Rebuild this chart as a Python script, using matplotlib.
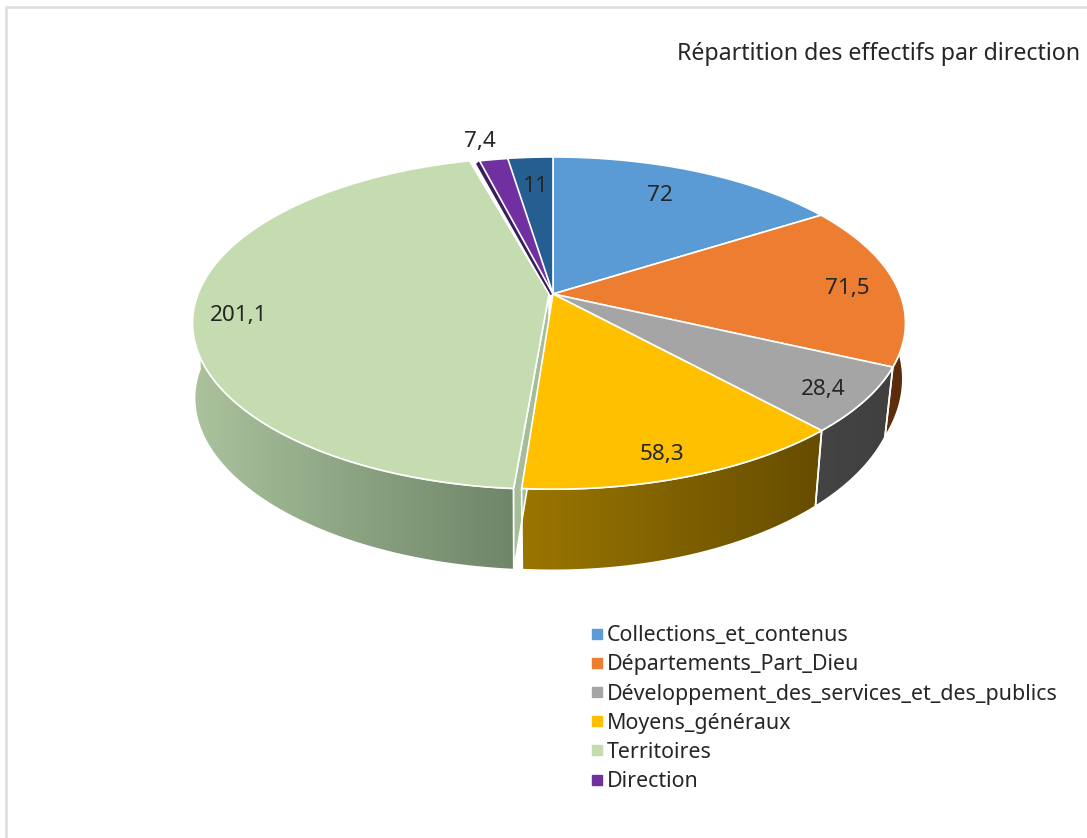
import numpy as np
from matplotlib import pyplot as plt
from matplotlib.colors import LinearSegmentedColormap
from matplotlib.lines import Line2D
from matplotlib.patches import Polygon

categories = ["Collections_et_contenus", "Départements_Part_Dieu",
              "Développement_des_services_et_des_publics", "Moyens_généraux",
              "Territoires", "Direction"]
values = [72, 71.5, 28.4, 58.3, 201.1, 7.4, 11]
value_labels = ["72", "71,5", "28,4", "58,3", "201,1", "7,4", "11"]
title = "Répartition des effectifs par direction"

top_colors = ["#5b9bd5", "#ed7d31", "#a5a5a5", "#ffc000", "#c5dbb0", "#7030a0", "#255e91"]
wall_colors = [("#37608a", "#37608a"), ("#6b350f", "#5a2c0c"), ("#444444", "#404040"),
               ("#9a7600", "#664c00"), ("#abc29d", "#6e8568"), ("#3a1d5c", "#3a1d5c"),
               ("#163a5c", "#163a5c")]

# slices 4 and 5 sit slightly off the centre (rim shift, apex shift)
rim_dx = [0, 0, 0, 0, -8, 2, 0]
apex_dx = [0, 0, 0, 0, -4, 0, 0]
# lower rim half width at start and end of each slice, extra drop at its end
low_a = [(339, 339), (358, 339), (339, 339), (339, 339), (345, 345), (339, 339), (339, 339)]
low_dy = [0, 0, 0, 0, 12, 0, 0]
label_pos = [(660, 195), (847, 288), (823, 389), (662, 454), (239, 315), (480, 141), (536, 186)]

plt.rcParams["font.family"] = ["Noto Sans", "DejaVu Sans"]

CX, K = 553, 0.175
TOP_Y, TOP_A, TOP_B = 294, 347, 161
LOW_Y, LOW_B = 357, 176


def rim(theta, cy, a, b, dx=0):
    w = 1 + K * np.cos(theta)
    return np.column_stack([CX + dx + a * np.sin(theta) / w, cy - b * np.cos(theta) / w])


fig = plt.figure(figsize=(10.87, 8.38), dpi=100)
ax = fig.add_axes([0, 0, 1, 1])
ax.set_xlim(0, 1087)
ax.set_ylim(838, 0)
ax.axis("off")

ax.plot([6, 6, 1087], [838, 7, 7], color="#dddddd", lw=1.8, zorder=1)

edges = np.radians(np.concatenate([[0], np.cumsum(values)]) / np.sum(values) * 360)

# walls, only the front half of the pie shows them
for i in [4, 1, 2, 3]:
    start, stop = edges[i], edges[i + 1]
    lo, hi = max(start, np.pi / 4), min(stop, 3 * np.pi / 2)
    t = np.linspace(lo, hi, 120)
    s = np.linspace(0, 1, 120)
    a_low = low_a[i][0] + (low_a[i][1] - low_a[i][0]) * s
    upper = rim(t, TOP_Y, TOP_A, TOP_B, rim_dx[i])
    lower = rim(t, LOW_Y + low_dy[i] * s ** 2, a_low, LOW_B, rim_dx[i])
    poly = Polygon(np.vstack([upper, lower[::-1]]), closed=True, fc="none", ec="white", lw=1.2, zorder=3)
    ax.add_patch(poly)
    cmap = LinearSegmentedColormap.from_list("w", wall_colors[i])
    x0, x1 = poly.get_xy()[:, 0].min(), poly.get_xy()[:, 0].max()
    img = ax.imshow(np.linspace(0, 1, 256)[None, :], cmap=cmap, aspect="auto",
                    extent=[x0, x1, 600, 150], zorder=2)
    img.set_clip_path(poly)
    if i == 4:
        # cut face of Territoires, seen between it and Moyens_généraux
        ax.add_patch(Polygon([(CX + apex_dx[i], TOP_Y), upper[0], lower[0], (CX + apex_dx[i], LOW_Y)],
                             closed=True, fc="#a5bd98", ec="white", lw=1.2, zorder=3))
ax.set_xlim(0, 1087)
ax.set_ylim(838, 0)

# top faces
for i, color in enumerate(top_colors):
    t = np.linspace(edges[i], edges[i + 1], 120)
    pts = rim(t, TOP_Y, TOP_A, TOP_B, rim_dx[i])
    apex = [(CX + apex_dx[i], TOP_Y)]
    if i == 5:
        # dark sliver under the left edge of Direction
        c = pts[0]
        ax.add_patch(Polygon([c, c + (-3.5, 3), (CX - 3, TOP_Y + 1), (CX, TOP_Y)], closed=True,
                             fc=wall_colors[i][0], ec="none", zorder=4))
    ax.add_patch(Polygon(np.vstack([apex, pts]), closed=True, fc=color, ec="white", lw=1.2,
                         joinstyle="round", zorder=5))

for txt, (x, y) in zip(value_labels, label_pos):
    ax.text(x, y, txt, ha="center", va="center", fontsize=16.2, color="#262626", zorder=6)

ax.text(1080, 54, title, ha="right", va="center", fontsize=16.7, color="#262626")

handles = [Line2D([], [], ls="", marker="s", ms=7, color=c, label=n)
           for n, c in zip(categories, top_colors)]
ax.legend(handles=handles, loc="upper left", bbox_to_anchor=(561, 606),
          bbox_transform=ax.transData, frameon=False, fontsize=15.4,
          labelcolor="#262626", labelspacing=0.382, handletextpad=-0.35, handlelength=1.6)

fig.savefig("out.png", dpi=100)
